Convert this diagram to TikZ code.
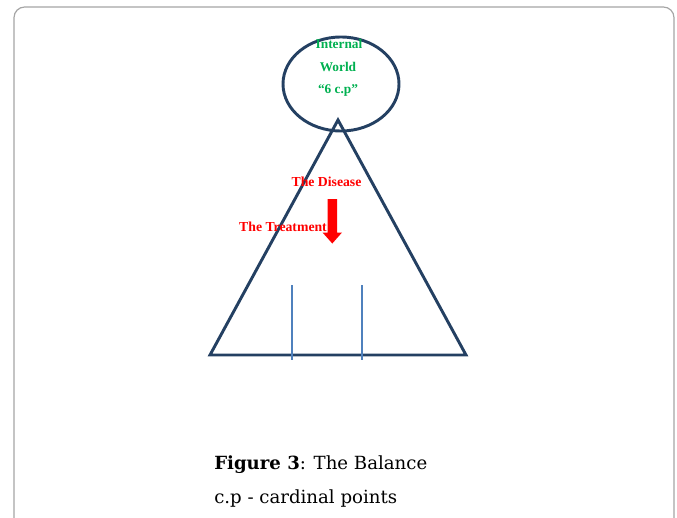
\documentclass[tikz,border=0pt]{standalone}
\usepackage{fontspec}
\usetikzlibrary{shapes.geometric}
\setmainfont{Liberation Serif}
\newfontfamily\capfont{DejaVu Serif}
\definecolor{navy}{RGB}{36,64,98}
\definecolor{lblue}{RGB}{79,129,189}
\definecolor{wgreen}{RGB}{0,176,80}
\definecolor{frame}{RGB}{165,165,165}
\begin{document}
\begin{tikzpicture}[x=0.75pt,y=-0.75pt,
  shapeline/.style={draw=navy,line width=2.2pt},
  tick/.style={draw=lblue,line width=1.6pt},
  greentxt/.style={text=wgreen,font=\bfseries\fontsize{10}{12}\selectfont,inner sep=0pt},
  redtxt/.style={text=red,font=\bfseries\fontsize{10.3}{12}\selectfont,inner sep=0pt},
  captxt/.style={font=\capfont\fontsize{13.6}{16}\selectfont,inner sep=0pt,anchor=base west}]
\useasboundingbox (0,0) rectangle (677,517);
% frame
\draw[frame,line width=0.9pt,rounded corners=8pt] (14,530) -- (14,7) -- (674,7) -- (674,530);
% ellipse
\node[shapeline,ellipse,minimum width=87pt,minimum height=70.5pt,inner sep=0pt] (world) at (341,84) {};
% triangle
\coordinate (apex) at (338,120);
\coordinate (bl) at (210,355);
\coordinate (br) at (466,355);
\draw[shapeline,line join=miter] (apex) -- (bl) -- (br) -- cycle;
% ticks
\coordinate (t1a) at (292,285); \coordinate (t1b) at (292,360);
\coordinate (t2a) at (362,285); \coordinate (t2b) at (362,360);
\draw[tick] (t1a) -- (t1b);
\draw[tick] (t2a) -- (t2b);
% texts
\node[greentxt] (t1) at (339,44) {Internal};
\node[greentxt] (t2) at (338,67) {World};
\node[greentxt] (t3) at (338,90) {“6 c.p”};
\node[redtxt] (dis) at (326.5,182) {The Disease};
\node[redtxt] (tre) at (283,227) {The Treatment};
% arrow
\fill[red] (327.5,199) -- (337,199) -- (337,232.5) -- (342,232.5) -- (332.3,243.5) -- (322.5,232.5) -- (327.5,232.5) -- cycle;
% caption
\node[captxt] (cap1) at (214,469) {\textbf{Figure 3}: The Balance};
\node[captxt] (cap2) at (214,503) {c.p - cardinal points};
\end{tikzpicture}
\end{document}
